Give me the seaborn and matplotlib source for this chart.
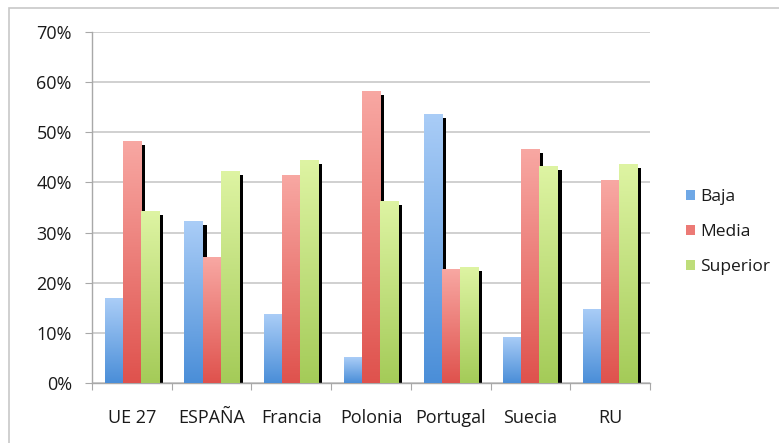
import numpy as np
import pandas as pd
import matplotlib
matplotlib.use("Agg")
import matplotlib.pyplot as plt
from matplotlib.patches import Rectangle, Patch
from matplotlib.colors import LinearSegmentedColormap
from matplotlib.ticker import FuncFormatter, FixedLocator
import seaborn as sns

# ---- data ----
categories = ["UE 27", "ESPAÑA", "Francia", "Polonia", "Portugal", "Suecia", "RU"]
series = ["Baja", "Media", "Superior"]
baja = [16.9, 32.3, 13.7, 5.1, 53.7, 9.2, 14.8]
media = [48.3, 25.1, 41.5, 58.3, 22.8, 46.7, 40.4]
superior = [34.3, 42.3, 44.4, 36.3, 23.1, 43.2, 43.6]
yticks = [0, 10, 20, 30, 40, 50, 60, 70]

df = pd.DataFrame({
    "Pais": categories * 3,
    "Nivel": [s for s in series for _ in categories],
    "Valor": baja + media + superior,
})

# gradient colours (top, bottom) and mid colour for legend
grad = {
    "Baja": ("#aacdf7", "#4a8ed8"),
    "Media": ("#f8a8a3", "#df524d"),
    "Superior": ("#def4a3", "#a4cb58"),
}
mid = {"Baja": "#6fa8e6", "Media": "#ec7a75", "Superior": "#bedd7a"}

sns.set_theme(style="white")
plt.rcParams["font.family"] = ["Open Sans", "DejaVu Sans"]

fig = plt.figure(figsize=(7.79, 4.43), dpi=100)
ax = fig.add_axes([92 / 779, 60 / 443, 558 / 779, 351 / 443])

sns.barplot(data=df, x="Pais", y="Valor", hue="Nivel", order=categories,
            hue_order=series, palette=mid, width=0.68, gap=0,
            linewidth=0, legend=False, ax=ax, zorder=3)

ax.set_ylim(0, 70)
ax.set_xlim(-0.5, len(categories) - 0.5)

# shadows + gradient fills
dx = 4 / 79.7
dy = 4 / 351 * 70
for i, p in enumerate(ax.patches):
    x, y0 = p.get_x(), p.get_y()
    w, h = p.get_width(), p.get_height()
    if h <= 0:
        continue
    ax.add_patch(Rectangle((x + dx, 0), w, max(h - dy, 0), facecolor="black",
                           edgecolor="none", zorder=2))
for k, s in enumerate(series):
    cmap = LinearSegmentedColormap.from_list(s, [grad[s][1], grad[s][0]])
    for p in ax.patches[k * len(categories):(k + 1) * len(categories)]:
        x, w, h = p.get_x(), p.get_width(), p.get_height()
        g = np.linspace(0, 1, 256).reshape(-1, 1)
        im = ax.imshow(g, cmap=cmap, origin="lower", aspect="auto",
                       extent=(x, x + w, 0, h), zorder=3.5, interpolation="bilinear")
        im.set_clip_path(p)
ax.set_ylim(0, 70)
ax.set_xlim(-0.5, len(categories) - 0.5)

# grid / axes styling
ax.set_yticks(yticks)
ax.yaxis.set_major_formatter(FuncFormatter(lambda v, _: f"{int(v)}%"))
ax.yaxis.grid(True, color="#c4c4c4", linewidth=1.1)
ax.xaxis.grid(False)
ax.set_axisbelow(True)
for side in ["top", "right"]:
    ax.spines[side].set_visible(False)
for side in ["left", "bottom"]:
    ax.spines[side].set_color("#a8a8a8")
    ax.spines[side].set_linewidth(1.0)
ax.tick_params(axis="y", which="major", left=True, length=5, width=0.8,
               color="#a8a8a8", labelsize=13, pad=9.5, labelcolor="#1a1a1a")
ax.xaxis.set_minor_locator(FixedLocator(np.arange(-0.5, len(categories), 1.0)))
ax.tick_params(axis="x", which="minor", bottom=True, length=5, width=0.8,
               color="#a8a8a8")
ax.tick_params(axis="x", which="major", bottom=False, length=0, labelsize=13,
               pad=19, labelcolor="#1a1a1a")
ax.set_xlabel("")
ax.set_ylabel("")

# legend
handles = [Patch(facecolor=mid[s], edgecolor="none", label=s) for s in series]
fig.legend(handles=handles, loc="center left",
           bbox_to_anchor=(670 / 779, 1 - 232 / 443), frameon=False,
           fontsize=12.5, handlelength=0.55, handleheight=0.55,
           handletextpad=0.3, labelspacing=1.1, labelcolor="#1a1a1a")

# outer chart border
fig.add_artist(Rectangle((9 / 779, -0.05), 1.0, 1 - 8 / 443 + 0.05,
                         transform=fig.transFigure, fill=False,
                         edgecolor="#c8c8c8", linewidth=1.2))

fig.savefig("out.png", dpi=100, facecolor="white")
